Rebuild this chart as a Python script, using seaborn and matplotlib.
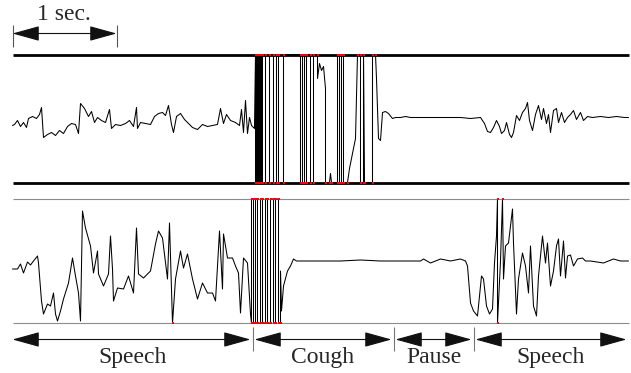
import numpy as np
import pandas as pd
import seaborn as sns
import matplotlib.pyplot as plt

FPS = 104  # frames per second, one frame ~ 9.6 ms

# upper trace (amplified channel), amplitude in frame units, clipped at +/-64
# repeated frame numbers = instantaneous jumps between the clip levels
top_t = [12, 14, 17, 20, 23, 26, 28, 32, 36, 39, 41, 43, 47, 51, 55, 59, 63, 67, 71, 75,
         78, 80, 84, 88, 91, 94, 97, 101, 105, 109, 111, 115, 120, 125, 129, 133, 136, 137, 140, 145,
         150, 154, 158, 162, 165, 168, 171, 173, 176, 180, 184, 188, 192, 197, 202, 207, 212, 217, 220, 223,
         226, 230, 235, 239, 241, 243, 245, 247, 249, 251, 254,
         255, 255, 256, 256, 257, 257, 258, 258, 259, 259, 260, 260, 261, 261, 262, 262, 265, 265, 269, 269,
         273, 273, 276, 276, 278, 278, 283, 283, 300, 300, 302, 302, 304, 304, 306, 306, 310, 310, 313, 313,
         317, 317, 319, 321, 323, 325, 325, 329, 330, 331, 337, 337, 339, 339, 341, 341, 343, 343, 347, 349,
         351, 353, 355, 357, 360, 360, 363, 363, 364, 372, 372, 375, 376, 378, 380,
         382, 385, 388, 392, 395, 400, 405, 410, 420, 430, 440, 450, 460, 470, 480,
         484, 487, 490, 493, 496, 499, 501, 504, 506, 509, 511, 513, 516, 519, 522, 525, 527, 529, 532, 535,
         538, 541, 543, 546, 548, 550, 553, 556, 558, 561, 564, 567, 570, 573, 576, 580, 583, 587, 592, 600,
         608, 616, 624, 628]
top_amp = [-7, -6, -2, -8, -4, -9, 0, 2, 0, 4, 11, -19, -16, -14, -17, -12, -15, -8, -5, -6,
           -15, 15, 10, 2, 7, -4, 1, -2, -4, 9, -10, -6, -7, -5, -2, -8, 11, -10, -4, -5,
           -6, 2, 5, 6, 3, 13, -6, -14, 2, 5, -1, -5, -9, -11, -6, -8, -7, -6, 10, -5,
           4, -2, -4, -7, 9, -14, 18, -15, 1, -7, -10,
           64, -64, -64, 64, 64, -64, -64, 64, 64, -64, -64, 64, 64, -64, -64, 64, 64, -64, -64, 64,
           64, -64, -64, 64, 64, -64, -64, 64, 64, -64, -64, 64, 64, -64, -64, 64, 64, -64, -64, 64,
           64, 40, 55, 48, 52, 30, -64, -64, -55, -64, -64, 64, 64, -64, -64, 64, 64, -64, -64, -50,
           -40, -30, -20, 64, 64, -64, -64, 64, -64, -64, 64, 64, 40, -20, -22,
           6, 7, 5, 0, 1, 1, 2, 1, 1, 1, 1, 1, 1, 0, 1,
           -5, -13, -14, -9, -2, -8, -15, -12, -4, -16, -19, -14, 3, -2, 6, 10, 16, -2, -12, 4,
           13, -1, 10, -5, 4, -14, 8, 10, -4, 6, -4, 1, 4, 8, -1, 6, -2, 2, 1, 2,
           1, 2, 1, 1]

# lower trace (normal gain), clipped at +/-62
bot_t = [12, 17, 20, 23, 27, 30, 33, 37, 38, 41, 43, 47, 50, 53, 55, 57, 60, 63, 68, 72,
         75, 78, 80, 81, 82, 85, 90, 93, 97, 98, 103, 108, 110, 112, 113, 117, 123, 128, 133, 136,
         138, 143, 150, 155, 158, 162, 167, 169, 172, 175, 180, 183, 187, 192, 197, 202, 207, 212, 215, 219,
         222, 223, 227, 232, 235, 238, 240, 243, 247, 250,
         251, 251, 253, 253, 255, 255, 257, 257, 260, 260, 262, 262, 265, 265, 267, 267, 270, 270, 273, 273,
         275, 275, 278, 278, 280, 280, 281, 283, 287, 290, 293, 296,
         300, 320, 340, 360, 380, 400, 420, 423, 430, 440, 450, 460, 465, 467, 470, 473, 477,
         481, 483, 486, 489, 492, 494, 496, 497, 497, 500, 502, 503, 505, 508, 512, 513, 516, 518, 522,
         525, 528, 530, 533, 536, 538, 542, 545, 547, 550, 553, 556, 558, 560, 563, 565, 567, 570, 573, 577,
         582, 585, 590, 603, 613, 620, 628]
bot_amp = [-8, -8, -3, -12, -1, -4, 0, 5, -2, -40, -53, -43, -45, -32, -53, -60, -50, -38, -22, 3,
           -15, -32, -60, -5, 50, 33, 15, -12, 10, -13, -25, -13, 25, -8, -40, -27, -28, -15, -32, 33,
           -13, -17, -10, 17, 30, 23, -18, 38, -62, -18, 10, -7, 7, -18, -38, -22, -32, -32, -40, 30,
           -28, 27, 3, 3, -5, -12, -52, 3, -2, -53,
           -62, 62, 62, -62, -62, 62, 62, -62, -62, 62, 62, -62, -62, 62, 62, -62, -62, 62, 62, -62,
           -62, 62, 62, -62, -62, -10, -50, -25, -10, -5, 2, 0,
           0, 0, 0, 1, 0, 0, 0, 2, -2, 2, 0, 2, 0, -5, -42, -50, -55,
           -15, -18, -45, -53, -48, -2, 25, 62, -62, 0, 62, -18, 15, 18, 52, 18, -53, -18, 8,
           -5, -32, 15, -45, -55, -15, 25, -2, 18, -25, -10, 15, 22, -15, 20, -17, 5, 6, -5, 2,
           3, 0, 0, -2, 2, 0, 0]

seg_labels = ["Speech", "Cough", "Pause", "Speech"]
seg_edges = [12, 252, 393, 473, 628]

TOP_MID, TOP_FULL = 118, 64
BOT_MID, BOT_FULL = 260.5, 62

sns.set_style("white")
plt.rcParams['font.family'] = ['Liberation Serif', 'DejaVu Serif']

fig = plt.figure(figsize=(6.31, 3.73), dpi=100)
ax = fig.add_axes([0, 0, 1, 1])

# clipping limits of both channels
x0, x1 = seg_edges[0], seg_edges[-1]
ax.hlines([TOP_MID - TOP_FULL, TOP_MID + TOP_FULL], x0, x1, color='black', lw=2, zorder=1)
ax.hlines([BOT_MID - BOT_FULL, BOT_MID + BOT_FULL], x0, x1, color='#8c8c8c', lw=0.8, zorder=1)

for t, amp, mid, full in [(top_t, top_amp, TOP_MID, TOP_FULL), (bot_t, bot_amp, BOT_MID, BOT_FULL)]:
    df = pd.DataFrame({'t': t, 'amp': amp})
    df['y'] = mid - df['amp']
    sns.lineplot(data=df, x='t', y='y', sort=False, estimator=None, color='black',
                 lw=0.75, ax=ax, zorder=2)
    # mark clipped samples in red
    clip = df[df['amp'].abs() >= full]
    sns.scatterplot(data=clip, x='t', y='y', color='red', marker='s', s=2.5,
                    linewidth=0, ax=ax, zorder=3)

arrow = dict(arrowstyle='<|-|>,head_length=1.7,head_width=0.47', mutation_scale=10,
             color='#111111', lw=0.8, shrinkA=0, shrinkB=0)

# segment arrows and labels
ROW = 339
for i, lab in enumerate(seg_labels):
    a, b = seg_edges[i], seg_edges[i + 1]
    ax.annotate('', xy=(a + (2 if i else 0), ROW), xytext=(b - 2, ROW), arrowprops=arrow)
    ax.text((a + b) / 2, 357, lab, ha='center', va='center', fontsize=17)
ax.vlines(seg_edges[1:-1], 326, 350, color='#777777', lw=0.8)

# one second scale bar
ax.annotate('', xy=(x0, 33), xytext=(x0 + FPS, 33), arrowprops=arrow)
ax.vlines([x0, x0 + FPS], 24, 46, color='#555555', lw=0.8)
ax.text(x0 + 51, 14, '1 sec.', ha='center', va='center', fontsize=17)

# half-pixel offset so that whole frames fall on pixel centres
ax.set_xlim(-0.5, 630.5)
ax.set_ylim(372.5, -0.5)
ax.axis('off')

fig.savefig('out.png', dpi=100)
